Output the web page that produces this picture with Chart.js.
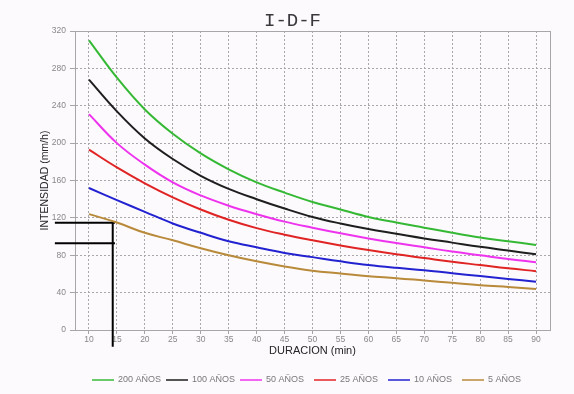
<!DOCTYPE html>
<html>
<head>
<meta charset="utf-8">
<title>I-D-F</title>
<script src="https://cdn.jsdelivr.net/npm/chart.js@4.4.1/dist/chart.umd.min.js"></script>
<style>
  html, body { margin: 0; padding: 0; background: #fdfafd; }
  #wrap { width: 574px; height: 394px; }
</style>
</head>
<body>
<div id="wrap"><canvas id="idf" width="574" height="394"></canvas></div>
<script>
// Durations (min) at which intensities are tabulated
const durations = [10, 15, 20, 25, 30, 35, 40, 45, 50, 55, 60, 65, 70, 75, 80, 85, 90];
const durationTicks = [10, 15, 20, 25, 30, 35, 40, 45, 50, 55, 60, 65, 70, 75, 80, 85, 90];
const intensityTicks = [0, 40, 80, 120, 160, 200, 240, 280, 320];

// Intensity (mm/h) per return period
const tr200 = [310, 270, 236, 210, 189, 172, 158, 147, 137, 129, 121, 115, 109.5, 104, 99, 95, 91];
const tr100 = [268, 234, 205, 183, 165, 151, 140, 130, 121, 114, 108, 103, 98, 93.5, 89, 85, 81];
const tr50  = [231, 200, 177, 158, 144, 133, 124, 116, 109.5, 103.5, 98, 93, 88.5, 84, 80, 76, 72.5];
const tr25  = [193, 174, 157, 142, 129, 118, 109, 102, 96, 90.5, 85.5, 81, 77, 73, 69.5, 66, 63];
const tr10  = [152, 139, 126.5, 114, 104, 95, 88.5, 82.5, 78, 73.5, 69.5, 66.5, 64, 60.7, 57.8, 54.7, 51.7];
const tr5   = [124, 115, 104, 96, 87.5, 80, 73.5, 68, 63.5, 60.5, 57.5, 55.5, 53, 50.5, 48, 46, 44];

const seriesLabels = ['200 AÑOS', '100 AÑOS', '50 AÑOS', '25 AÑOS', '10 AÑOS', '5 AÑOS'];

const guideDuration = 14.25;
const guideIntensities = [114.9, 92.8];
const guideFrom = 3.9;     // duration where the horizontal guides start
const guideBottom = -18;   // intensity where the vertical guide ends

const curveColors = ['#35b935', '#1e1e1e', '#ee33ee', '#e02424', '#2222d0', '#b88a3a'];
const allSeries = [tr200, tr100, tr50, tr25, tr10, tr5];

const curveSets = allSeries.map((vals, i) => ({
  label: seriesLabels[i],
  data: durations.map((d, k) => ({ x: d, y: vals[k] })),
  borderColor: curveColors[i],
  backgroundColor: curveColors[i],
  borderWidth: 2,
  pointRadius: 0,
  tension: 0.4,
  fill: false
}));

const guideSets = [
  { data: [{ x: guideFrom, y: guideIntensities[0] }, { x: guideDuration + 0.4, y: guideIntensities[0] }] },
  { data: [{ x: guideFrom, y: guideIntensities[1] }, { x: guideDuration + 0.4, y: guideIntensities[1] }] },
  { data: [{ x: guideDuration, y: guideIntensities[0] }, { x: guideDuration, y: guideBottom }] }
].map(s => Object.assign(s, {
  label: '',
  isGuide: true,
  borderColor: '#000',
  borderWidth: 2,
  pointRadius: 0,
  tension: 0,
  clip: false
}));

// Solid frame round the plot area
const framePlugin = {
  id: 'frame',
  beforeDatasetsDraw(chart) {
    const { ctx, chartArea: a } = chart;
    ctx.save();
    ctx.strokeStyle = '#a9a6ab';
    ctx.lineWidth = 1;
    ctx.setLineDash([]);
    ctx.strokeRect(Math.round(a.left) + 0.5, Math.round(a.top) + 0.5,
                   Math.round(a.right - a.left), Math.round(a.bottom - a.top));
    ctx.restore();
  }
};

// Legend laid out in equal slots under the axis
const slotLegend = {
  id: 'slotLegend',
  afterDraw(chart) {
    const { ctx } = chart;
    const y = chart.height - 14;
    const x0 = 92, pitch = 74, len = 22;
    ctx.save();
    ctx.font = '9px "Liberation Sans", Arial, sans-serif';
    ctx.textBaseline = 'middle';
    ctx.textAlign = 'left';
    chart.data.datasets.forEach((ds, i) => {
      if (ds.isGuide) return;
      const x = x0 + i * pitch;
      ctx.strokeStyle = ds.borderColor;
      ctx.globalAlpha = 0.75;
      ctx.lineWidth = 2;
      ctx.beginPath();
      ctx.moveTo(x, y);
      ctx.lineTo(x + len, y);
      ctx.stroke();
      ctx.globalAlpha = 1;
      ctx.fillStyle = '#7a777c';
      ctx.fillText(ds.label, x + len + 4, y);
    });
    ctx.restore();
  }
};

new Chart(document.getElementById('idf'), {
  type: 'line',
  data: { datasets: [...curveSets, ...guideSets] },
  plugins: [framePlugin, slotLegend],
  options: {
    responsive: false,
    animation: false,
    devicePixelRatio: 1,
    layout: { padding: { left: 35, right: 24, top: 0, bottom: 28 } },
    plugins: {
      legend: { display: false },
      tooltip: { enabled: false },
      title: {
        display: true,
        text: 'I-D-F',
        color: '#3a383c',
        font: { family: '"Liberation Mono", "DejaVu Sans Mono", monospace', size: 19, weight: 'normal', lineHeight: 1.0 },
        padding: { top: 11, bottom: 1 }
      }
    },
    scales: {
      x: {
        type: 'linear',
        min: 7.5,
        max: 92.5,
        afterBuildTicks: s => { s.ticks = durationTicks.map(v => ({ value: v })); },
        afterFit: s => { s.height = 36; },
        ticks: {
          color: '#8a878c',
          font: { family: '"Liberation Sans", Arial, sans-serif', size: 8.5 },
          padding: 1,
          maxRotation: 0
        },
        grid: {
          color: '#aaa7ac',
          lineWidth: 1,
          tickLength: 4,
          tickBorderDash: [],
          tickColor: '#a8a5aa'
        },
        border: { display: true, color: '#a9a6ab', dash: [2, 2] },
        title: {
          display: true,
          text: 'DURACION (min)',
          color: '#262428',
          font: { family: '"Liberation Sans", Arial, sans-serif', size: 11 },
          padding: { top: 0, bottom: 8 }
        }
      },
      y: {
        type: 'linear',
        min: 0,
        max: 320,
        afterBuildTicks: s => { s.ticks = intensityTicks.map(v => ({ value: v })); },
        afterFit: s => { s.width = 40; },
        ticks: {
          color: '#8a878c',
          font: { family: '"Liberation Sans", Arial, sans-serif', size: 8.5 },
          padding: 4
        },
        grid: {
          color: '#aaa7ac',
          lineWidth: 1,
          tickLength: 5,
          tickBorderDash: [],
          tickColor: '#a8a5aa'
        },
        border: { display: true, color: '#a9a6ab', dash: [2, 2] },
        title: {
          display: true,
          text: 'INTENSIDAD (mm/h)',
          color: '#262428',
          font: { family: '"Liberation Sans", Arial, sans-serif', size: 10.5 },
          padding: { top: 4, bottom: 0 }
        }
      }
    }
  }
});
</script>
</body>
</html>
